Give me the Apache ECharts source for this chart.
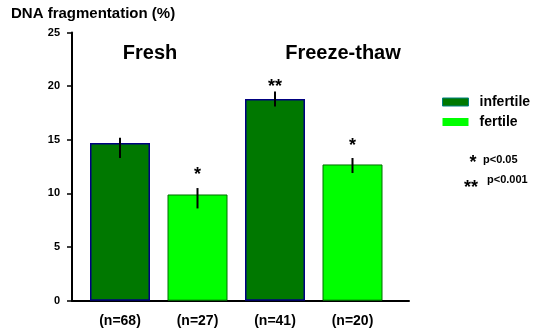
<!DOCTYPE html>
<html>
<head>
<meta charset="utf-8">
<script src="https://cdn.jsdelivr.net/npm/echarts@6/dist/echarts.min.js"></script>
<style>html,body{margin:0;padding:0;background:#fff;}#c{width:537px;height:331px;}</style>
</head>
<body>
<div id="c"></div>
<script>
const categories = ['(n=68)', '(n=27)', '(n=41)', '(n=20)'];
const infertile = [14.7, '-', 18.8, '-'];
const fertile = ['-', 9.9, '-', 12.7];
const errLow = [13.3, 8.6, 18.1, 11.9];
const errHigh = [15.2, 10.5, 19.5, 13.3];
const stars = ['', '*', '**', '*'];
const starLevel = [null, 12.0, 20.2, 14.7];
const yTicks = [0, 5, 10, 15, 20, 25];

const FONT = 'Liberation Sans, Arial, sans-serif';
const chart = echarts.init(document.getElementById('c'));

const errData = categories.map((c, i) => [i, errLow[i], errHigh[i], starLevel[i] == null ? 0 : starLevel[i], stars[i]]);

chart.setOption({
  animation: false,
  backgroundColor: '#fff',
  grid: [
    { left: 81.25, right: 145.75, top: 32.5, bottom: 30.3 },
    { left: 72, right: 128, top: 32.5, bottom: 30.3 }
  ],
  xAxis: [
    {
      type: 'category', gridIndex: 0, data: categories,
      axisLine: { show: false }, axisTick: { show: false },
      axisLabel: { margin: 13, color: '#000', fontFamily: FONT, fontWeight: 'bold', fontSize: 14 }
    },
    {
      type: 'value', gridIndex: 1, min: 0, max: 1,
      axisLine: { show: true, onZero: false, lineStyle: { color: '#000', width: 2 } },
      axisTick: { show: false }, axisLabel: { show: false }, splitLine: { show: false }
    }
  ],
  yAxis: [
    { type: 'value', gridIndex: 0, min: 0, max: 25, show: false },
    {
      type: 'value', gridIndex: 1, min: yTicks[0], max: yTicks[yTicks.length - 1], interval: 5,
      axisLine: { show: true, lineStyle: { color: '#000', width: 2 } },
      axisTick: { show: true, length: 5, lineStyle: { color: '#000', width: 1.5 } },
      axisLabel: { margin: 12, color: '#000', fontFamily: FONT, fontWeight: 'bold', fontSize: 11 },
      splitLine: { show: false }
    }
  ],
  legend: {
    orient: 'vertical', left: 437, top: 90, itemWidth: 26, itemHeight: 8, itemGap: 6,
    icon: 'rect',
    data: [
      { name: 'infertile', itemStyle: { borderColor: '#008080', borderWidth: 1 } },
      { name: 'fertile', itemStyle: { borderWidth: 0 } }
    ],
    textStyle: { color: '#000', fontFamily: FONT, fontWeight: 'bold', fontSize: 14, padding: [0, 0, 0, 6] }
  },
  graphic: [
    { type: 'text', left: 11, top: 6, style: { text: 'DNA fragmentation (%)', fill: '#000', font: 'bold 15px ' + FONT } },
    { type: 'text', x: 150, y: 53.5, style: { text: 'Fresh', fill: '#000', font: 'bold 20px ' + FONT, align: 'center', verticalAlign: 'middle' } },
    { type: 'text', x: 343, y: 53.5, style: { text: 'Freeze-thaw', fill: '#000', font: 'bold 20px ' + FONT, align: 'center', verticalAlign: 'middle' } },
    { type: 'text', x: 473, y: 163, style: { text: '*', fill: '#000', font: 'bold 18px ' + FONT, align: 'center', verticalAlign: 'middle' } },
    { type: 'text', x: 483, y: 160, style: { text: 'p<0.05', fill: '#000', font: 'bold 11px ' + FONT, align: 'left', verticalAlign: 'middle' } },
    { type: 'text', x: 471, y: 188, style: { text: '**', fill: '#000', font: 'bold 18px ' + FONT, align: 'center', verticalAlign: 'middle' } },
    { type: 'text', x: 487, y: 180, style: { text: 'p<0.001', fill: '#000', font: 'bold 11px ' + FONT, align: 'left', verticalAlign: 'middle' } }
  ],
  series: [
    {
      name: 'infertile', type: 'bar', xAxisIndex: 0, yAxisIndex: 0, data: infertile,
      barWidth: 60, barGap: '-100%',
      itemStyle: { color: '#007800', borderColor: '#000080', borderWidth: 1.5 }
    },
    {
      name: 'fertile', type: 'bar', xAxisIndex: 0, yAxisIndex: 0, data: fertile,
      barWidth: 60, barGap: '-100%',
      itemStyle: { color: '#00ff00', borderColor: '#006e00', borderWidth: 1 }
    },
    {
      type: 'custom', xAxisIndex: 0, yAxisIndex: 0, data: errData, z: 10,
      renderItem: function (params, api) {
        const i = api.value(0);
        const lo = api.coord([i, api.value(1)]);
        const hi = api.coord([i, api.value(2)]);
        const children = [{
          type: 'line',
          shape: { x1: lo[0], y1: lo[1], x2: hi[0], y2: hi[1] },
          style: { stroke: '#000', lineWidth: 2 }
        }];
        const s = errData[params.dataIndex][4];
        if (s) {
          const p = api.coord([i, api.value(3)]);
          children.push({
            type: 'text', x: p[0], y: p[1] + 3,
            style: { text: s, fill: '#000', font: 'bold 18px ' + FONT, align: 'center', verticalAlign: 'middle' }
          });
        }
        return { type: 'group', children: children };
      }
    }
  ]
});
</script>
</body>
</html>
